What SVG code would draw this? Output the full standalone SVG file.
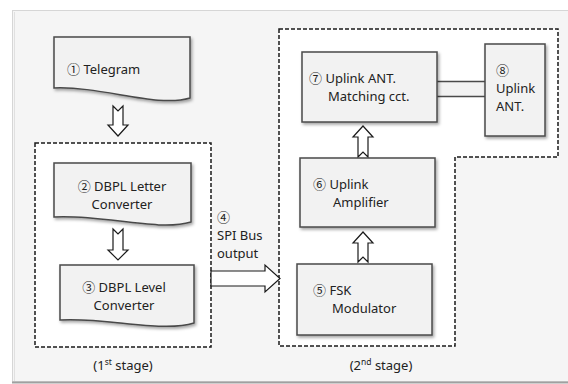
<svg xmlns="http://www.w3.org/2000/svg" width="568" height="384" viewBox="0 0 568 384">
<defs>
<filter id="sh" x="-10%" y="-10%" width="130%" height="130%">
<feDropShadow dx="1.5" dy="2" stdDeviation="1.5" flood-color="#000" flood-opacity="0.35"/>
</filter>
<style>
text{font-family:"Noto Sans","Noto Sans CJK KR","DejaVu Sans",sans-serif;font-size:13px;fill:#222222}
.node{fill:#f2f2f2;stroke:#4a4a4a;stroke-width:1.5;filter:url(#sh)}
.dash{fill:#ffffff;stroke:#1a1a1a;stroke-width:1.5;stroke-dasharray:4 2}
.arr{fill:#ffffff;stroke:#1a1a1a;stroke-width:1.2;stroke-linejoin:miter}
.sup{font-size:8.5px}
</style>
</defs>
<rect x="0" y="0" width="568" height="384" fill="#ffffff"/>
<rect x="12.5" y="10.5" width="560" height="371" fill="#f5f5f5" stroke="#d6d6d6" stroke-width="1"/>
<line x1="14.5" y1="12" x2="14.5" y2="381" stroke="#e0e0e0" stroke-width="1"/>
<line x1="12" y1="382.5" x2="568" y2="382.5" stroke="#a0a0a0" stroke-width="2"/>

<g id="stage1">
<rect class="dash" x="35" y="143" width="176" height="204"/>
<text x="123" y="370" text-anchor="middle">(1<tspan class="sup" dy="-5">st</tspan><tspan dy="5"> stage)</tspan></text>
</g>
<g id="stage2">
<path class="dash" d="M279,29 H558 V157 H455 V346 H279 Z"/>
<text x="381" y="370" text-anchor="middle">(2<tspan class="sup" dy="-5">nd</tspan><tspan dy="5"> stage)</tspan></text>
</g>

<g id="connectors">
<path class="arr" d="M113,106 L118,111 L123,106 V125 H128 L118,136 L108,125 H113 Z"/>
<path class="arr" d="M113,229 L118,234 L123,229 V250 H128 L118,260 L108,250 H113 Z"/>
<path class="arr" d="M211,271 H265 V265 L280,278.5 L265,292 V286 H211 Z"/>
<path class="arr" d="M358,262 L363,257 L368,262 V243 H373 L363,232 L353,243 H358 Z"/>
<path class="arr" d="M358,157 L363,152 L368,157 V137 H373 L363,126 L353,137 H358 Z"/>
<rect x="437" y="81.5" width="48" height="15" fill="#f2f2f2"/>
<line x1="437" y1="81.5" x2="485" y2="81.5" stroke="#4a4a4a" stroke-width="1.5"/>
<line x1="437" y1="96.5" x2="485" y2="96.5" stroke="#4a4a4a" stroke-width="1.5"/>
<g id="label4">
<text x="217" y="222">④</text>
<text x="217" y="240">SPI Bus</text>
<text x="217" y="258">output</text>
</g>
</g>

<g id="n1">
<path class="node" d="M54,37 H190 V98 C157,108 102,86 54,88 Z"/>
<text x="67" y="74">① Telegram</text>
</g>
<g id="n2">
<path class="node" d="M54,163 H191 V222 C158,232 102,214 54,217 Z"/>
<text x="122" y="191" text-anchor="middle">② DBPL Letter</text>
<text x="122" y="209" text-anchor="middle">Converter</text>
</g>
<g id="n3">
<path class="node" d="M60,265 H194 V323 C162,333 106,317 60,320 Z"/>
<text x="124" y="292" text-anchor="middle">③ DBPL Level</text>
<text x="124" y="310" text-anchor="middle">Converter</text>
</g>
<g id="n5">
<rect class="node" x="297" y="264" width="135" height="71"/>
<text x="313" y="295">⑤ FSK</text>
<text x="332" y="313">Modulator</text>
</g>
<g id="n6">
<rect class="node" x="300" y="158" width="135" height="69"/>
<text x="313" y="189">⑥ Uplink</text>
<text x="333" y="207">Amplifier</text>
</g>
<g id="n7">
<rect class="node" x="302" y="52" width="135" height="70"/>
<text x="309" y="83">⑦ Uplink ANT.</text>
<text x="328" y="101">Matching cct.</text>
</g>
<g id="n8">
<rect class="node" x="485" y="44" width="60" height="92"/>
<text x="496" y="75">⑧</text>
<text x="496" y="93">Uplink</text>
<text x="496" y="111">ANT.</text>
</g>
</svg>
